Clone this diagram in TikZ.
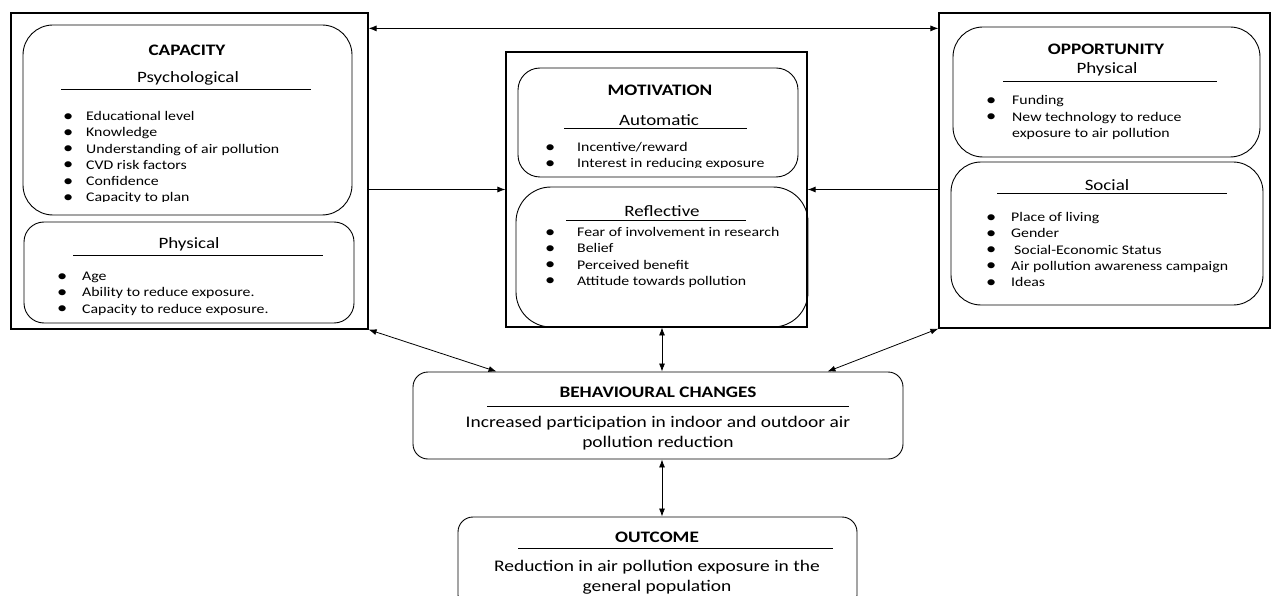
\documentclass[tikz,border=0pt]{standalone}
\usepackage{fontspec}
\setmainfont{Carlito}[FakeStretch=1.2]
\usetikzlibrary{arrows.meta,positioning}

\newcommand{\itemfont}{\fontsize{13.2}{16.3}\selectfont}
\newcommand{\subfont}{\fontsize{15.8}{18}\selectfont}
\newcommand{\headfont}{\fontsize{16}{18}\selectfont\bfseries}
\newcommand{\bodyfont}{\fontsize{16.2}{20.5}\selectfont}
\newcommand{\bu}{\raisebox{-0.6pt}{\fontsize{17}{16}\selectfont\textbullet}}
\newcommand{\blist}[2]{\begin{tabular}[t]{@{}p{#1}@{}l@{}}#2\end{tabular}}

\tikzset{
  frame/.style={draw, line width=1.2pt, inner sep=0},
  rbox/.style={draw, line width=0.9pt, inner sep=0},
  head/.style={font=\headfont, inner sep=0},
  sub/.style={font=\subfont, inner sep=0},
  items/.style={font=\itemfont, anchor=base west, inner sep=0},
  body/.style={font=\bodyfont, align=center, inner sep=0},
  link/.style={line width=0.8pt}
}

\begin{document}
\begin{tikzpicture}[x=1pt,y=-1pt,>={Latex[length=8pt,width=6pt]}]
\clip (0,0) rectangle (1271,596);

% capacity
\node[frame, minimum width=357, minimum height=316] (cap) at (189.5,171) {};
\node[rbox, rounded corners=30pt, minimum width=329, minimum height=190] (psy) at (187.5,120) {};
\node[rbox, rounded corners=20pt, minimum width=330, minimum height=101] (cphys) at (189,272.5) {};
\node[head] (capT) at (187,50) {CAPACITY};
\node[sub] (psyT) at (188,78) {Psychological};
\draw (61,89) -- (311,89);
\begin{scope}
\clip (23,25) rectangle (352,201.5);
\node[items] (psyL) at (63,120.5) {\blist{23pt}{%
  \bu & Educational level\\
  \bu & Knowledge\\
  \bu & Understanding of air pollution\\
  \bu & CVD risk factors\\
  \bu & Confidence\\
  \bu & Capacity to plan}};
\end{scope}
\node[sub] (cphysT) at (189,244) {Physical};
\draw (73,255) -- (323,255);
\node[items] (cphysL) at (57,280.5) {\blist{25pt}{%
  \bu & Age\\
  \bu & Ability to reduce exposure.\\
  \bu & Capacity to reduce exposure.}};

% motivation
\node[frame, minimum width=301, minimum height=275] (mot) at (656.5,189.5) {};
\node[rbox, rounded corners=22pt, minimum width=280, minimum height=109] (auto) at (658,122.5) {};
\node[rbox, rounded corners=35pt, minimum width=292, minimum height=140] (refl) at (662,257) {};
\node[head] (motT) at (660,90) {MOTIVATION};
\node[sub] (autoT) at (659,120) {Automatic};
\draw (564,128) -- (747,128);
\begin{scope}
\clip (518,68) rectangle (798,167.5);
\node[items] (autoL) at (545,151.5) {\blist{32pt}{%
  \bu & Incentive/reward\\
  \bu & Interest in reducing exposure}};
\end{scope}
\node[sub] (reflT) at (662,211) {Reflective};
\draw (566,220) -- (746,220);
\node[items] (reflL) at (545,236.5) {\blist{32pt}{%
  \bu & Fear of involvement in research\\
  \bu & Belief\\
  \bu & Perceived benefit\\
  \bu & Attitude towards pollution}};

% opportunity
\node[frame, minimum width=331, minimum height=315] (opp) at (1104.5,170.5) {};
\node[rbox, rounded corners=30pt, minimum width=307, minimum height=130] (ophys) at (1106.5,92) {};
\node[rbox, rounded corners=30pt, minimum width=312, minimum height=143] (soc) at (1107,233.5) {};
\node[head] (oppT) at (1106,49) {OPPORTUNITY};
\node[sub] (ophysT) at (1107,69) {Physical};
\draw (1003,81) -- (1217,81);
\node[items] (ophysL) at (986,105) {\blist{26pt}{%
  \bu & Funding\\
  \bu & New technology to reduce\\
      & exposure to air pollution}};
\node[sub] (socT) at (1107,185) {Social};
\draw (997,193) -- (1227,193);
\node[items] (socL) at (986,221.5) {\blist{25pt}{%
  \bu & Place of living\\
  \bu & Gender\\
  \bu & \hspace{3pt}Social-Economic Status\\
  \bu & Air pollution awareness campaign\\
  \bu & Ideas}};

% behaviour and outcome
\node[rbox, rounded corners=15pt, minimum width=490, minimum height=87] (beh) at (658,415.5) {};
\node[head] (behT) at (658,392) {BEHAVIOURAL CHANGES};
\draw (487,406) -- (849,406);
\node[body] (behL) at (658,433) {Increased participation in indoor and outdoor air\\pollution reduction};

\node[rbox, rounded corners=15pt, minimum width=399, minimum height=93] (out) at (657.5,563.5) {};
\node[head] (outT) at (657,537) {OUTCOME};
\draw (518,548) -- (833,548);
\node[body] (outL) at (657,577.5) {Reduction in air pollution exposure in the\\general population};

% links
\coordinate (topL) at ([yshift=-16pt]cap.north east);
\draw[link,<->] (topL) -- (topL -| opp.west);
\draw[link,->] (cap.east |- mot.west) -- (mot.west);
\draw[link,->] (opp.west |- mot.east) -- (mot.east);
\draw[link,<->] (refl.south) -- (refl.south |- beh.north);
\draw[link,<->] ([xshift=4pt]beh.south) -- ([xshift=4pt]beh.south |- out.north);
\draw[link,<->] (cap.south east) -- ([xshift=84pt]beh.north west);
\draw[link,<->] ([xshift=-76pt]beh.north east) -- (opp.south west);
\end{tikzpicture}
\end{document}
